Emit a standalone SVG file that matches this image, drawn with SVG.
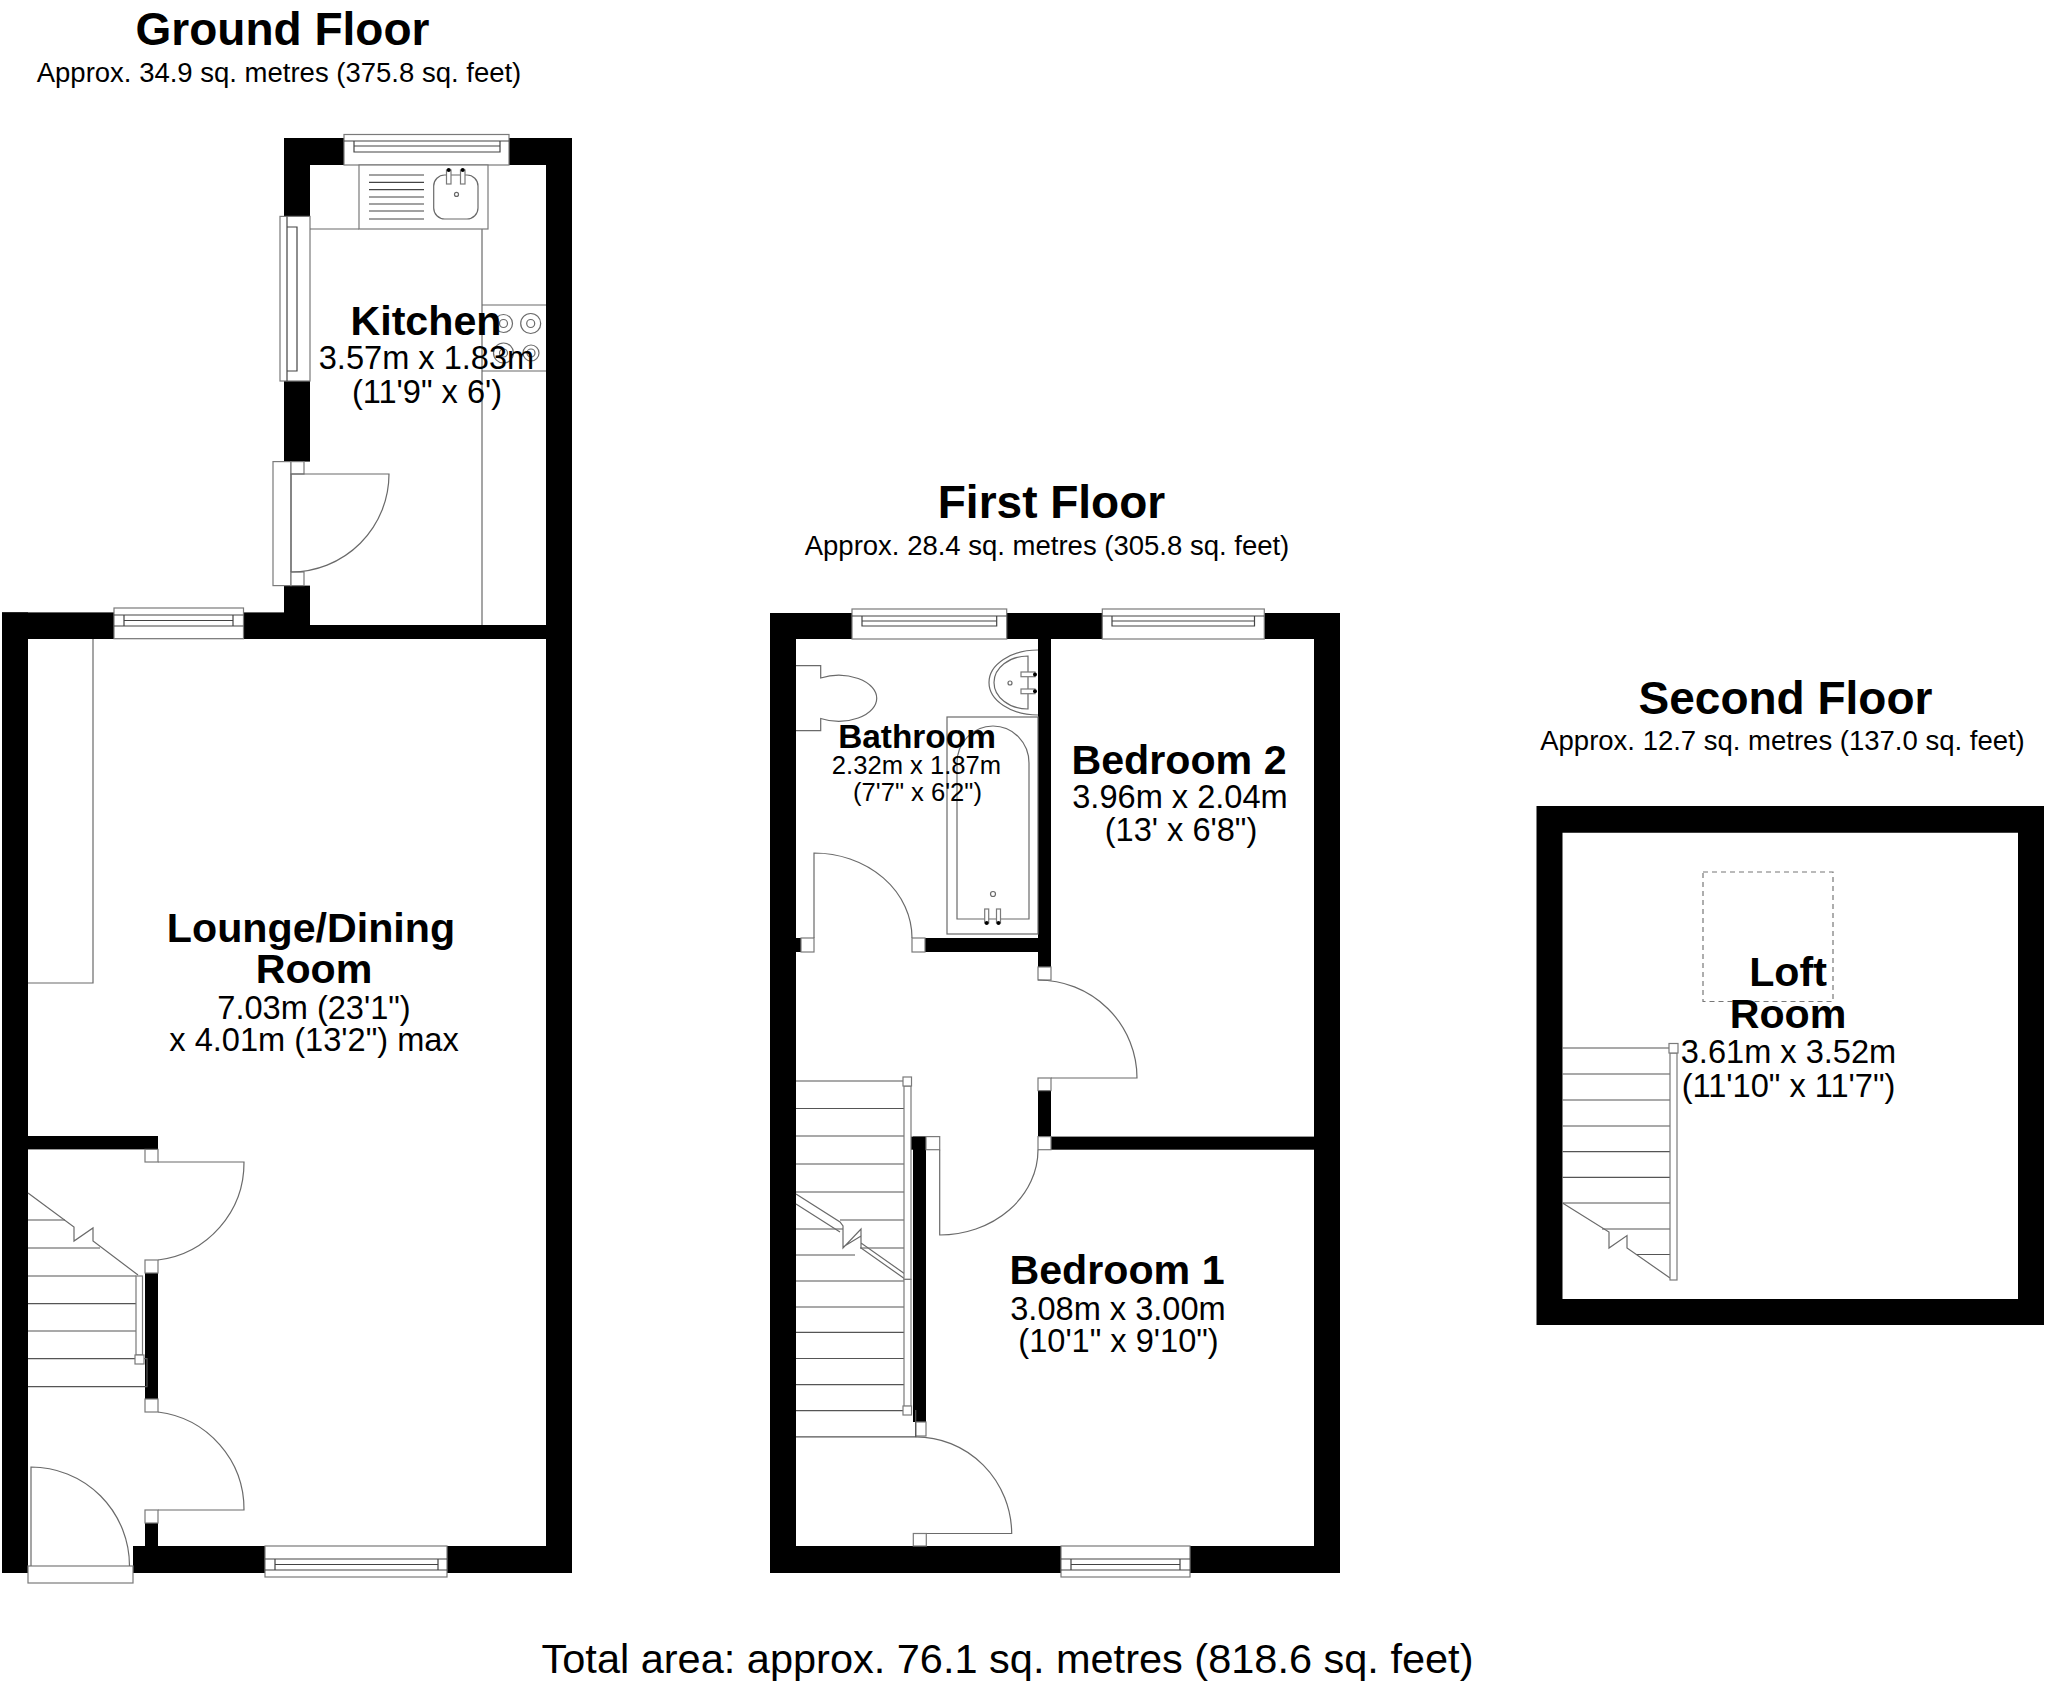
<svg xmlns="http://www.w3.org/2000/svg" width="2048" height="1687" viewBox="0 0 2048 1687">
<style>
text{font-family:"Liberation Sans",Arial,sans-serif;fill:#000;text-anchor:middle}
.t{font-size:46px;font-weight:700}
.s{font-size:27.5px}
.n{font-size:41.2px;font-weight:700}
.d{font-size:32.6px}
.bn{font-size:33.4px;font-weight:700}
.bd{font-size:25.6px}
.tot{font-size:41.5px}
.w{fill:#000}
.o{fill:#fff;stroke:#7a7a7a;stroke-width:1.2}
.l{fill:none;stroke:#6a6a6a;stroke-width:1.2}
.k{fill:none;stroke:#444;stroke-width:1.2}
.st{fill:none;stroke:#555;stroke-width:1.2}
.dash{fill:none;stroke:#777;stroke-width:1.2;stroke-dasharray:5 4}
.dot{fill:#000}
</style>
<rect width="2048" height="1687" fill="#fff"/>

<g id="ground-floor">
<g id="ground-walls">
<rect class="w" x="2" y="612.4" width="308" height="26.6"/>
<rect class="w" x="2" y="612.4" width="26" height="960.6"/>
<rect class="w" x="284" y="138" width="288" height="27"/>
<rect class="w" x="284" y="138" width="26" height="78.4"/>
<rect class="w" x="284" y="381" width="26" height="80.6"/>
<rect class="w" x="284" y="585.6" width="26" height="40"/>
<rect class="w" x="546" y="138" width="26" height="1435"/>
<rect class="w" x="310" y="625" width="236" height="14"/>
<rect class="w" x="133" y="1546" width="439" height="27"/>
<rect class="w" x="28" y="1136" width="130" height="13.4"/>
<rect class="w" x="145" y="1273" width="13" height="126"/>
<rect class="w" x="145" y="1523" width="13" height="23"/>
</g>
<g id="kitchen">
<rect class="o" x="344" y="134.5" width="165" height="30.5"/>
<path class="k" d="M344 141H509M354 141V152H500V141M354 146H500"/>
<rect class="o" x="280" y="216.4" width="30" height="164.6"/>
<path class="k" d="M287 216.4V381M287 227H297V371H287"/>
<path class="l" d="M310 229H359M482 229V625M482 305H546M482 371H546"/>
<rect class="o" x="359" y="165" width="129" height="64"/>
<path class="k" d="M369 175H424M369 182.3H424M369 189.6H424M369 197H424M369 204H424M369 211H424M369 219H424"/>
<rect class="l" x="433.7" y="175" width="44.3" height="44" rx="11"/>
<rect class="o" x="446.5" y="170" width="4.5" height="14"/>
<rect class="o" x="460.5" y="170" width="4.5" height="14"/>
<circle class="dot" cx="448.7" cy="170" r="2"/>
<circle class="dot" cx="462.7" cy="170" r="2"/>
<circle class="l" cx="456.5" cy="194.4" r="2"/>
<circle class="l" cx="503.500" cy="323.500" r="9"/><circle class="l" cx="503.500" cy="323.500" r="4"/>
<circle class="l" cx="530.7" cy="323.500" r="10"/><circle class="l" cx="530.7" cy="323.500" r="4"/>
<circle class="l" cx="503.500" cy="353" r="10"/><circle class="l" cx="503.500" cy="353" r="4"/>
<circle class="l" cx="531" cy="353" r="8"/><circle class="l" cx="531" cy="353" r="4"/>
<rect class="o" x="273" y="461.6" width="18" height="124"/>
<rect class="o" x="291" y="461.6" width="13" height="12.4"/>
<rect class="o" x="291" y="572" width="13" height="13.6"/>
<path class="l" d="M291 572V474H389A98 98 0 0 1 291 572"/>
<text class="n" x="426" y="335">Kitchen</text>
<text class="d" x="426.500" y="368.6">3.57m x 1.83m</text>
<text class="d" x="427" y="403">(11'9" x 6')</text>
</g>
<g id="lounge">
<rect class="o" x="114" y="608" width="129.500" height="30.700"/>
<path class="k" d="M114 615H243.500M124 615V626H233V615M114 626H243.500M124 620.500H233"/>
<path class="l" d="M93 639V983H28"/>
<rect class="o" x="145" y="1149.400" width="13" height="12.600"/>
<rect class="o" x="145" y="1260" width="13" height="13"/>
<rect class="o" x="145" y="1399" width="13" height="13"/>
<rect class="o" x="145" y="1510" width="13" height="13"/>
<path class="l" d="M158 1162H244A98 98 0 0 1 158 1260"/>
<path class="l" d="M158 1412A98 98 0 0 1 244 1510H158"/>
<rect class="o" x="265" y="1546" width="182" height="31"/>
<path class="k" d="M275 1559V1570H438V1559H275M275 1564.500H438M265 1559H447M265 1570H447"/>
<rect class="o" x="28" y="1566" width="105" height="17"/>
<path class="l" d="M31 1566V1467A98.500 99 0 0 1 129.500 1566"/>
<path class="st" d="M28 1220H65M28 1248H100M28 1276H136M28 1303.600H136M28 1331H136M28 1358.700H147V1386.700H28"/>
<path class="l" d="M28 1193L74 1227V1241L93 1228V1241L138 1275"/>
<rect class="o" x="136" y="1276" width="6.500" height="79"/>
<rect class="o" x="135" y="1355" width="9" height="9"/>
<text class="n" x="311" y="941.700">Lounge/Dining</text>
<text class="n" x="314" y="983">Room</text>
<text class="d" x="314" y="1019">7.03m (23'1")</text>
<text class="d" x="314" y="1051">x 4.01m (13'2") max</text>
</g>
<text class="t" x="282.500" y="45">Ground Floor</text>
<text class="s" x="279" y="81.500">Approx. 34.9 sq. metres (375.8 sq. feet)</text>
</g>

<g id="first-floor">
<g id="first-walls">
<rect class="w" x="770" y="613" width="570" height="26"/>
<rect class="w" x="770" y="613" width="26" height="960"/>
<rect class="w" x="1314" y="613" width="26" height="960"/>
<rect class="w" x="770" y="1546" width="570" height="27"/>
<rect class="w" x="1038" y="639" width="13" height="328"/>
<rect class="w" x="796" y="938" width="5" height="14"/>
<rect class="w" x="925" y="938" width="113" height="14"/>
<rect class="w" x="1038" y="1090.600" width="13" height="46"/>
<rect class="w" x="1051" y="1136.600" width="263" height="13.100"/>
<rect class="w" x="911" y="1136.600" width="15" height="13.100"/>
<rect class="w" x="913" y="1136.600" width="13" height="285.400"/>
</g>
<g id="bathroom">
<rect class="o" x="852" y="609" width="154.700" height="30"/>
<path class="k" d="M852 616H1006.700M862 616V626H996.700V616M862 621H996.700"/>
<path class="l" d="M796 665.700H820.700V678A38 23 0 1 1 820.700 718.500V730.700H796"/>
<path class="l" d="M1038 650A49 32.500 0 0 0 1038 715M1028 656A34 26.500 0 0 0 1028 709Z"/>
<rect class="o" x="1021" y="672" width="14" height="4.700"/>
<rect class="o" x="1021" y="689" width="14" height="4.700"/>
<circle class="dot" cx="1035" cy="674.500" r="2"/>
<circle class="dot" cx="1035" cy="691.300" r="2"/>
<circle class="l" cx="1010" cy="683" r="2"/>
<rect class="l" x="947" y="717" width="91" height="217"/>
<path class="l" d="M957 919V763A36 37 0 0 1 1029 763V919Z"/>
<circle class="l" cx="993" cy="894" r="2.500"/>
<rect class="o" x="984.700" y="909" width="4" height="14"/>
<rect class="o" x="996.500" y="909" width="4" height="14"/>
<circle class="dot" cx="986.700" cy="923" r="2"/>
<circle class="dot" cx="998.500" cy="923" r="2"/>
<rect class="o" x="801" y="938" width="13" height="14"/>
<rect class="o" x="912" y="938" width="13" height="14"/>
<path class="l" d="M814 938V853A98 85 0 0 1 912 938"/>
<text class="bn" x="917" y="747.700">Bathroom</text>
<text class="bd" x="916.500" y="774.300">2.32m x 1.87m</text>
<text class="bd" x="917.500" y="801">(7'7" x 6'2")</text>
</g>
<g id="bedroom-2">
<rect class="o" x="1102.300" y="609" width="162" height="30"/>
<path class="k" d="M1102.300 616H1264.300M1112 616V626H1254.500V616M1112 621H1254.500"/>
<rect class="o" x="1038" y="967" width="13" height="13"/>
<rect class="o" x="1038" y="1078" width="13" height="12.600"/>
<path class="l" d="M1038 980A99 98 0 0 1 1137 1078H1051"/>
<text class="n" x="1179" y="774">Bedroom 2</text>
<text class="d" x="1180" y="808">3.96m x 2.04m</text>
<text class="d" x="1181" y="841">(13' x 6'8")</text>
</g>
<g id="bedroom-1">
<rect class="o" x="926" y="1136.600" width="13.700" height="13.100"/>
<rect class="o" x="1038" y="1136.600" width="13" height="13.100"/>
<path class="l" d="M939.700 1149.700V1235A98.300 85.300 0 0 0 1038 1149.700"/>
<rect class="o" x="1061" y="1546" width="129" height="31"/>
<path class="k" d="M1071 1559V1570H1180V1559H1071M1071 1564.500H1180M1061 1559H1190M1061 1570H1190"/>
<rect class="o" x="915.700" y="1422" width="10.300" height="14"/>
<rect class="o" x="913.300" y="1533.500" width="13" height="12.500"/>
<path class="l" d="M926.300 1533.500H1011.700A96 97.500 0 0 0 915.700 1436.800"/>
<text class="n" x="1117" y="1284.400">Bedroom 1</text>
<text class="d" x="1118" y="1319.700">3.08m x 3.00m</text>
<text class="d" x="1118.500" y="1352">(10'1" x 9'10")</text>
</g>
<g id="first-stairs">
<path class="st" d="M796 1081H904M796 1108.500H904M796 1136H904M796 1164H904M796 1192H904M840 1220H904M860 1248H904M796 1229H843M796 1255H855M796 1281H904M796 1307H904M796 1332.400H904M796 1358.500H904M796 1384.600H904M796 1410.700H904M796 1436.800H915.700V1410"/>
<path class="l" d="M796 1194L840 1222L843 1226V1248L861 1229V1243L905 1274M796 1204L840 1232M843 1247L861 1236V1248L905 1279"/>
<rect class="o" x="904" y="1086" width="7" height="193.400"/>
<rect class="o" x="904" y="1279.400" width="7" height="127"/>
<rect class="o" x="903" y="1077" width="8.500" height="9"/>
<rect class="o" x="903" y="1406" width="8.500" height="9"/>
</g>
<text class="t" x="1051.500" y="518">First Floor</text>
<text class="s" x="1047" y="555">Approx. 28.4 sq. metres (305.8 sq. feet)</text>
</g>

<g id="second-floor">
<path class="w" fill-rule="evenodd" d="M1536.500 806H2044V1325H1536.500ZM1562.500 832.700V1299H2018V832.700Z"/>
<g id="loft-room">
<rect class="dash" x="1703" y="872" width="130" height="129.500"/>
<path class="st" d="M1562.500 1048H1669M1562.500 1074H1670M1562.500 1100H1670M1562.500 1126H1670M1562.500 1151.600H1670M1562.500 1177.400H1670M1562.500 1203H1670M1602 1229H1670M1636 1254.500H1670"/>
<path class="l" d="M1562.500 1203L1609 1232V1248L1627 1235.600V1248L1670 1278"/>
<rect class="o" x="1670" y="1053" width="7" height="227"/>
<rect class="o" x="1669" y="1043.500" width="9" height="9.500"/>
<text class="n" x="1788" y="986">Loft</text>
<text class="n" x="1788" y="1028">Room</text>
<text class="d" x="1788.500" y="1063.400">3.61m x 3.52m</text>
<text class="d" x="1788.500" y="1096.500">(11'10" x 11'7")</text>
</g>
<text class="t" x="1785.500" y="714">Second Floor</text>
<text class="s" x="1782.500" y="750">Approx. 12.7 sq. metres (137.0 sq. feet)</text>
</g>

<text class="tot" x="1007.500" y="1673">Total area: approx. 76.1 sq. metres (818.6 sq. feet)</text>
</svg>
